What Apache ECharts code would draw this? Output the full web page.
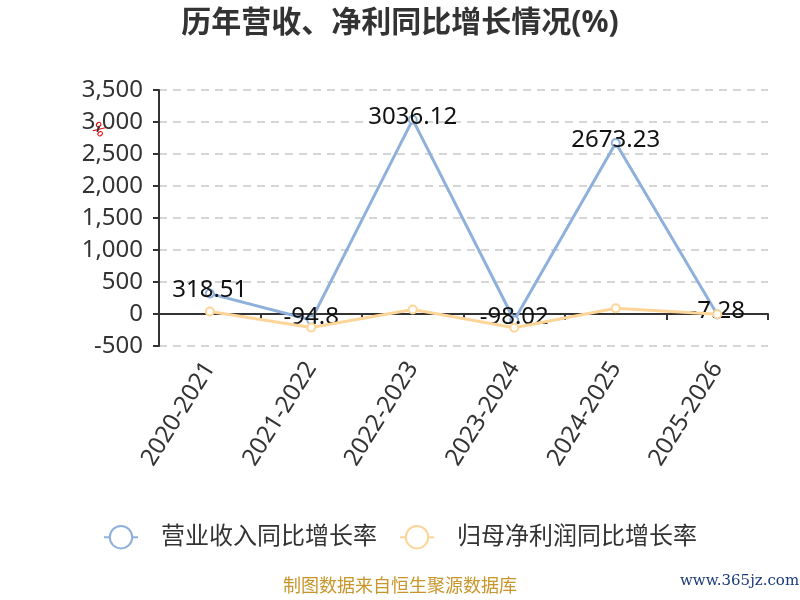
<!DOCTYPE html>
<html>
<head>
<meta charset="utf-8">
<script src="https://cdn.jsdelivr.net/npm/echarts@6/dist/echarts.min.js"></script>
<style>
  html, body { margin: 0; padding: 0; background: #fff; }
  #main { width: 800px; height: 600px; }
</style>
</head>
<body>
<div id="main"></div>
<script>
var years = ['2020-2021', '2021-2022', '2022-2023', '2023-2024', '2024-2025', '2025-2026'];
var revenueGrowth = [318.51, -94.8, 3036.12, -98.02, 2673.23, -7.28];
var profitGrowth = [40, -210, 70, -215, 90, -5];
var yTicks = { min: -500, max: 3500, step: 500 };

// 基于准备好的dom，初始化echarts实例
var chart = echarts.init(document.getElementById('main'));
var font = '"Noto Sans", "Noto Sans CJK SC", sans-serif';

var option = {
    title: {
        text: '历年营收、净利同比增长情况(%)',
        left: 'center',
        top: 3,
        textStyle: { fontSize: 30, fontWeight: 'bold', color: '#333', fontFamily: font }
    },
    legend: {
        top: 520,
        left: 'center',
        itemWidth: 34,
        itemHeight: 28,
        itemGap: 22,
        itemStyle: { borderWidth: 2 },
        lineStyle: { width: 2 },
        textStyle: { fontSize: 24, color: '#333', fontFamily: font, padding: [0, 0, 0, 18] },
        data: ['营业收入同比增长率', '归母净利润同比增长率']
    },
    grid: { left: 159, right: 32, top: 90, bottom: 254 },
    xAxis: {
        type: 'category',
        data: years,
        axisLine: { onZero: true, lineStyle: { color: '#333', width: 2 } },
        axisTick: { show: true, length: 6, lineStyle: { color: '#333', width: 2 } },
        axisLabel: {
            rotate: 58,
            fontSize: 24,
            color: '#333',
            fontFamily: font,
            margin: 18,
            interval: 0
        }
    },
    yAxis: {
        type: 'value',
        min: yTicks.min,
        max: yTicks.max,
        interval: yTicks.step,
        axisLine: { show: true, lineStyle: { color: '#333', width: 2 } },
        axisTick: { show: true, length: 6, lineStyle: { color: '#333', width: 2 } },
        axisLabel: { fontSize: 24, color: '#333', fontFamily: font, margin: 16 },
        splitLine: { lineStyle: { type: [8, 6], color: '#c8c8c8', width: 1.5 } }
    },
    graphic: [
        {
            type: 'text', left: 88, top: 120, rotation: -Math.PI / 4,
            style: { text: '%', fill: '#e00', fontSize: 15, fontFamily: '"DejaVu Sans", sans-serif' }
        },
        {
            type: 'text', left: 'center', top: 578,
            style: { text: '制图数据来自恒生聚源数据库', fill: '#c8952a', fontSize: 18, fontFamily: font }
        },
        {
            type: 'text', left: 680, top: 574,
            style: { text: 'www.365jz.com', fill: '#1a3a7a', fontSize: 15, fontFamily: '"DejaVu Serif", serif' }
        }
    ],
    series: [
        {
            name: '营业收入同比增长率',
            type: 'line',
            data: revenueGrowth,
            symbol: 'emptyCircle',
            symbolSize: 8,
            itemStyle: { color: '#8eb0db' },
            lineStyle: { width: 3, color: '#8eb0db' },
            label: {
                show: true,
                position: 'inside',
                offset: [0, -3],
                fontSize: 24,
                color: '#111',
                fontFamily: font
            },
            z: 2
        },
        {
            name: '归母净利润同比增长率',
            type: 'line',
            data: profitGrowth,
            symbol: 'emptyCircle',
            symbolSize: 8,
            itemStyle: { color: '#fdd598' },
            lineStyle: { width: 3, color: '#fdd598' },
            z: 3
        }
    ]
};
// 使用刚指定的配置项和数据显示图表。
chart.setOption(option);
</script>
</body>
</html>
